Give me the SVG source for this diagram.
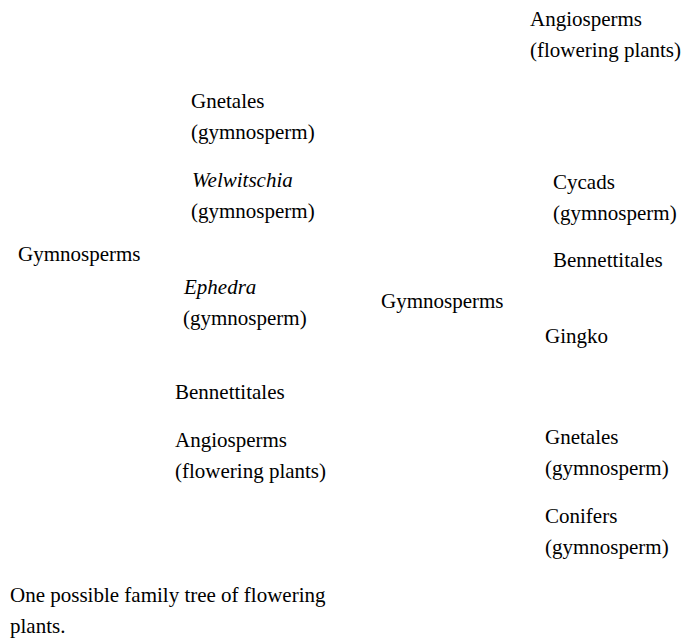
<svg xmlns="http://www.w3.org/2000/svg" width="683" height="639" viewBox="0 0 683 639">
<style>
text{font-family:"Liberation Serif","Times New Roman",serif;font-size:21px;fill:#000}
.i{font-style:italic}
</style>
<rect width="683" height="639" fill="#fff"/>
<g id="connectors"></g>
<g id="left-gnetales"><text x="191" y="108">Gnetales</text><text x="191" y="139">(gymnosperm)</text></g>
<g id="left-welwitschia"><text x="192" y="187" class="i">Welwitschia</text><text x="191" y="218">(gymnosperm)</text></g>
<g id="left-gymnosperms"><text x="18" y="261">Gymnosperms</text></g>
<g id="left-ephedra"><text x="184" y="294" class="i">Ephedra</text><text x="183" y="325">(gymnosperm)</text></g>
<g id="left-bennettitales"><text x="175" y="399">Bennettitales</text></g>
<g id="left-angiosperms"><text x="175" y="447">Angiosperms</text><text x="175" y="478">(flowering plants)</text></g>
<g id="right-angiosperms"><text x="530" y="26">Angiosperms</text><text x="530" y="57">(flowering plants)</text></g>
<g id="right-cycads"><text x="553" y="189">Cycads</text><text x="553" y="220">(gymnosperm)</text></g>
<g id="right-bennettitales"><text x="553" y="267">Bennettitales</text></g>
<g id="right-gymnosperms"><text x="381" y="308">Gymnosperms</text></g>
<g id="right-gingko"><text x="545" y="343">Gingko</text></g>
<g id="right-gnetales"><text x="545" y="444">Gnetales</text><text x="545" y="475">(gymnosperm)</text></g>
<g id="right-conifers"><text x="545" y="523">Conifers</text><text x="545" y="554">(gymnosperm)</text></g>
<g id="caption"><text x="10" y="602">One possible family tree of flowering</text><text x="10" y="633">plants.</text></g>
</svg>
